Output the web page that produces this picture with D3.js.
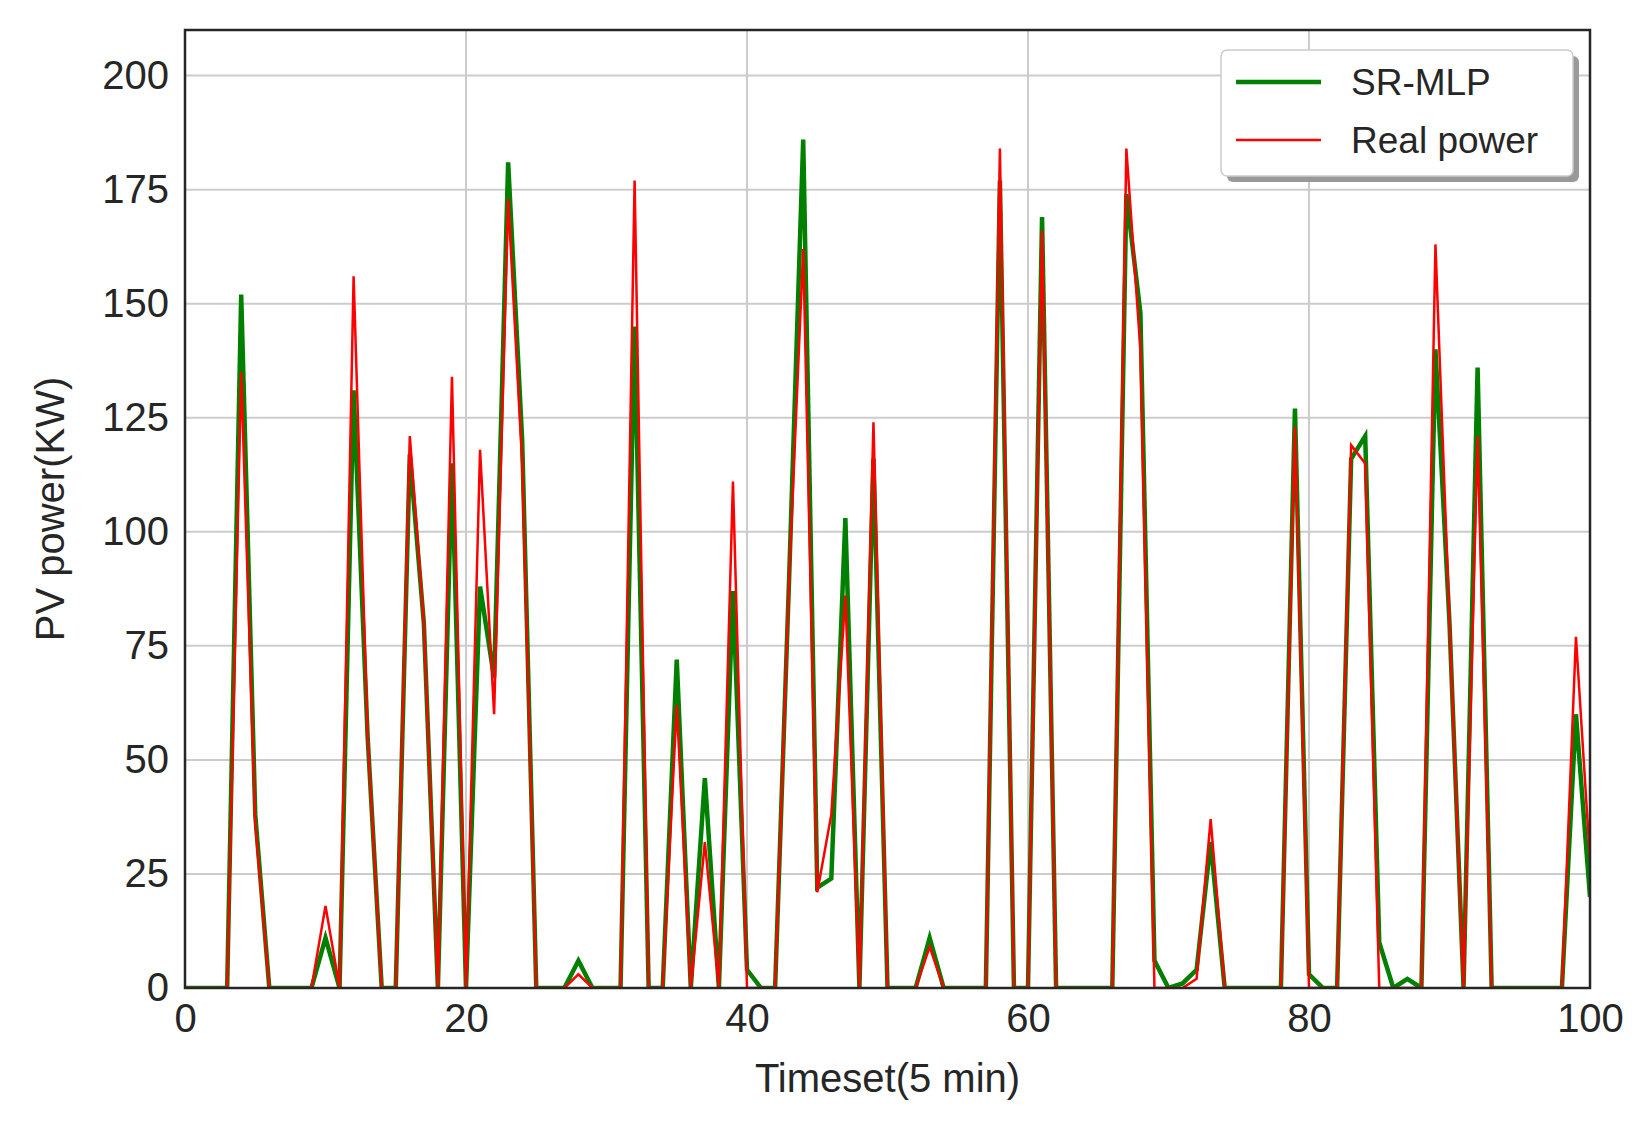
<!DOCTYPE html>
<html>
<head>
<meta charset="utf-8">
<script src="https://cdn.jsdelivr.net/npm/d3@7"></script>
<style>
  body { margin: 0; background: #fff; }
  text { font-family: "Liberation Sans", Arial, sans-serif; fill: #262626; }
</style>
</head>
<body>
<svg id="chart" width="1644" height="1124"></svg>
<script>
// values, one per 5-min step (0..100)
var srMlp = [0,0,0,0,152,38,0,0,0,0,11,0,131,55,0,0,117,80,0,115,
  0,88,68,181,120,0,0,0,6,0,0,0,145,0,0,72,0,46,0,87,
  4,0,0,90,186,22,24,103,0,116,0,0,0,11,0,0,0,0,177,0,
  0,169,0,0,0,0,0,174,148,6,0,1,4,32,0,0,0,0,0,127,
  3,0,0,116,121,10,0,2,0,140,80,0,136,0,0,0,0,0,0,60,20];
var realPower = [0,0,0,0,135,36,0,0,0,0,18,0,156,55,0,0,121,80,0,134,
  0,118,60,173,115,0,0,0,3,0,0,0,177,0,0,62,0,32,0,111,
  0,0,0,90,162,21,38,86,0,124,0,0,0,9,0,0,0,0,184,0,
  0,166,0,0,0,0,0,184,140,0,0,0,2,37,0,0,0,0,0,123,
  0,0,0,119,115,0,0,0,0,163,80,0,121,0,0,0,0,0,0,77,28];
var xTicks = [0,20,40,60,80,100];
var yTicks = [0,25,50,75,100,125,150,175,200];

var margin = {top: 30, right: 54, bottom: 136, left: 185},
    width = 1644 - margin.left - margin.right,
    height = 1124 - margin.top - margin.bottom;

var svg = d3.select("#chart");
var g = svg.append("g").attr("transform", "translate(" + margin.left + "," + margin.top + ")");

var x = d3.scaleLinear().domain([0, 100]).range([0, width]);
var y = d3.scaleLinear().domain([0, 210]).range([height, 0]);

// grid
g.selectAll(".vg").data(xTicks).enter().append("line")
  .attr("x1", d => x(d)).attr("x2", d => x(d)).attr("y1", 0).attr("y2", height)
  .attr("stroke", "#cccccc").attr("stroke-width", 2);
g.selectAll(".hg").data(yTicks).enter().append("line")
  .attr("x1", 0).attr("x2", width).attr("y1", d => y(d)).attr("y2", d => y(d))
  .attr("stroke", "#cccccc").attr("stroke-width", 2);

// axes (labels only, seaborn white style)
var xAxis = g.append("g").attr("transform", "translate(0," + height + ")")
  .call(d3.axisBottom(x).tickValues(xTicks).tickSize(0).tickPadding(16));
var yAxis = g.append("g")
  .call(d3.axisLeft(y).tickValues(yTicks).tickSize(0).tickPadding(16));
[xAxis, yAxis].forEach(function(a) {
  a.select(".domain").remove();
  a.selectAll("text").style("font-size", "40px").style("fill", "#262626")
    .style("font-family", "Liberation Sans, Arial, sans-serif");
});

var idx = d3.range(srMlp.length);
var line = function(arr) {
  return d3.line().x(i => x(i)).y(i => y(arr[i]))(idx);
};

svg.append("defs").append("clipPath").attr("id", "clip")
  .append("rect").attr("width", width).attr("height", height);
var plot = g.append("g").attr("clip-path", "url(#clip)");
plot.append("path").attr("d", line(srMlp)).attr("fill", "none")
  .attr("stroke", "#008000").attr("stroke-width", 4.5);
plot.append("path").attr("d", line(realPower)).attr("fill", "none")
  .attr("stroke", "#ff0000").attr("stroke-width", 2.5);

// frame
g.append("rect").attr("width", width).attr("height", height)
  .attr("fill", "none").attr("stroke", "#262626").attr("stroke-width", 2.5);

// axis titles
svg.append("text").attr("x", margin.left + width / 2).attr("y", 1092)
  .attr("text-anchor", "middle").style("font-size", "40px").text("Timeset(5 min)");
svg.append("text")
  .attr("transform", "translate(64," + (margin.top + height / 2) + ") rotate(-90)")
  .attr("text-anchor", "middle").style("font-size", "40px").text("PV power(KW)");

// legend
var lg = svg.append("g").attr("transform", "translate(1221,50)");
lg.append("rect").attr("x", 6).attr("y", 6).attr("width", 352).attr("height", 126)
  .attr("rx", 6).attr("fill", "#999");
lg.append("rect").attr("width", 352).attr("height", 126).attr("rx", 6)
  .attr("fill", "#fff").attr("stroke", "#ccc").attr("stroke-width", 1.5);
var items = [{name: "SR-MLP", color: "#008000", w: 4.5}, {name: "Real power", color: "#ff0000", w: 2.5}];
items.forEach(function(d, i) {
  var yy = 32 + i * 58;
  lg.append("line").attr("x1", 15).attr("x2", 100).attr("y1", yy).attr("y2", yy)
    .attr("stroke", d.color).attr("stroke-width", d.w);
  lg.append("text").attr("x", 130).attr("y", yy + 13).style("font-size", "37px").text(d.name);
});
</script>
</body>
</html>
